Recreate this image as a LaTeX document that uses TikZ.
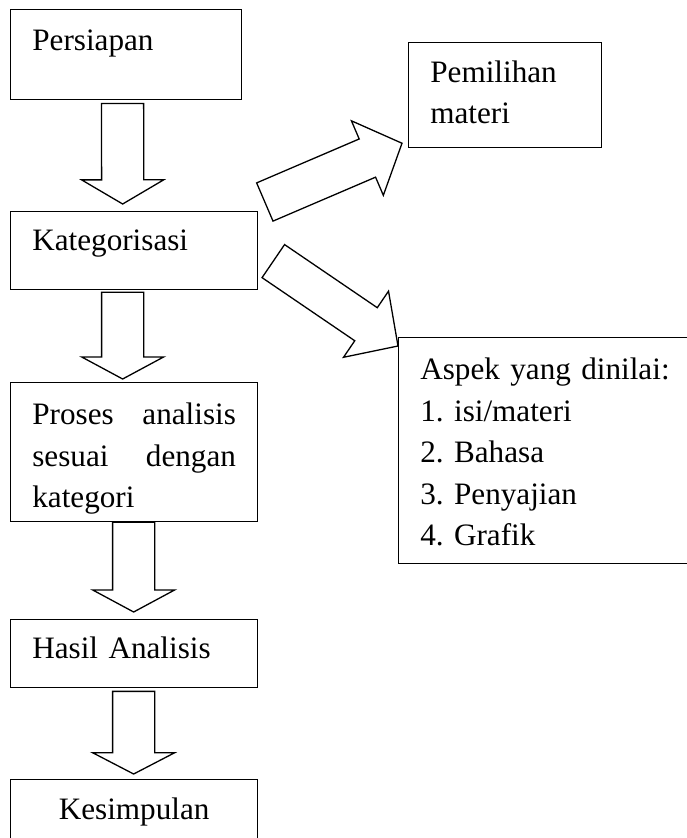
\documentclass[tikz,border=0pt]{standalone}
\usepackage{fontspec}
\setmainfont{Liberation Serif}
\usetikzlibrary{calc}
\frenchspacing

\begin{document}
\begin{tikzpicture}[
  x=0.385pt, y=-0.385pt,
  box/.style={draw,line width=0.5pt,anchor=north west,align=left,
              inner xsep=8.35pt,inner ysep=0pt,
              font=\fontsize{12pt}{16pt}\selectfont},
  fat/.style n args={3}{draw,line width=0.5pt,line join=miter,
    to path={($(\tikztostart)!#1!90:(\tikztotarget)$)
      -- ($(\tikztotarget)!#3!(\tikztostart)!#1!90:(\tikztotarget)$)
      -- ($(\tikztotarget)!#3!(\tikztostart)!#2!90:(\tikztotarget)$)
      -- (\tikztotarget)
      -- ($(\tikztotarget)!#3!(\tikztostart)!#2!-90:(\tikztotarget)$)
      -- ($(\tikztotarget)!#3!(\tikztostart)!#1!-90:(\tikztotarget)$)
      -- ($(\tikztostart)!#1!-90:(\tikztotarget)$) -- cycle}},
]
\fill[white] (0,0) rectangle (687,838);
\useasboundingbox (0,0) rectangle (687,838);

% ====================================================== LEFT: main column
\node[box,text width=72.2pt,text height=15.8pt,text depth=18.9pt] (persiapan) at (10,9) {Persiapan};
\node[box,text width=78.4pt,text height=15.0pt,text depth=15.0pt] (kategori) at (10,211) {Kategorisasi};
\node[box,text width=78.4pt,text height=16.2pt,text depth=37.3pt] (proses) at (10,382)
  {Proses\hfill analisis\\ sesuai\hfill dengan\\ kategori};
\node[box,text width=78.4pt,text height=15.0pt,text depth=11.2pt] (hasil) at (10,619) {Hasil Analisis};
\node[box,align=center,text width=78.4pt,text height=15.4pt,text depth=10.4pt] (kesimpulan) at (10,779) {Kesimpulan};

% ====================================================== RIGHT: side boxes
\node[box,text width=57.6pt,text height=15.3pt,text depth=25.1pt] (pemilihan) at (408,42)
  {Pemilihan\\ materi};
\node[box,text width=99.6pt,text height=16.2pt,text depth=70.8pt] (aspek) at (398,337)
  {Aspek yang dinilai:\\ 1. isi/materi\\ 2. Bahasa\\ 3. Penyajian\\ 4. Grafik};

% arrow ends
\coordinate (a1s) at ($(persiapan.south)+(-3.5,3)$);
\coordinate (a1e) at ($(kategori.north)+(-11.5,-7)$);
\coordinate (a2s) at ($(kategori.south)+(-11.5,2)$);
\coordinate (a2e) at ($(proses.north)+(-11.5,-3)$);
\coordinate (a3s) at ($(proses.south)+(-0.5,0)$);
\coordinate (a3e) at ($(hasil.north)+(-0.5,-7)$);
\coordinate (a4s) at ($(hasil.south)+(-0.5,3)$);
\coordinate (a4e) at ($(kesimpulan.north)+(-0.5,-5)$);
\coordinate (a5s) at ($(kategori.north east)+(6.5,-9)$);
\coordinate (a5e) at ($(pemilihan.south west)+(-6,-5)$);
\coordinate (a6s) at ($(kategori.east)+(15,10.5)$);
\coordinate (a6e) at ($(aspek.north west)+(0,9)$);

% block arrows
\draw[fat={8.1pt}{15.8pt}{9.3pt}] (a1s) to (a1e);
\draw[fat={8.1pt}{15.8pt}{8.5pt}] (a2s) to (a2e);
\draw[fat={8.1pt}{15.8pt}{8.5pt}] (a3s) to (a3e);
\draw[fat={8.1pt}{15.8pt}{8.2pt}] (a4s) to (a4e);
\draw[fat={8.0pt}{15.6pt}{14.5pt}] (a5s) to (a5e);
\draw[fat={7.7pt}{15.4pt}{14.9pt}] (a6s) to (a6e);

\end{tikzpicture}
\end{document}
